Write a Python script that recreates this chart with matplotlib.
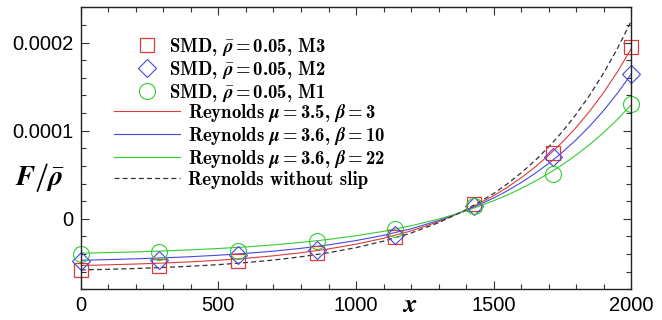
import matplotlib
matplotlib.use('Agg')
import matplotlib.pyplot as plt
from matplotlib.ticker import MultipleLocator, FuncFormatter

plt.rcParams['mathtext.fontset'] = 'custom'
plt.rcParams['mathtext.rm'] = 'cmb10'
plt.rcParams['mathtext.bf'] = 'cmb10'
plt.rcParams['mathtext.it'] = 'STIXGeneral:italic:bold'

# SMD data points
x_smd = [0, 286, 571, 857, 1143, 1429, 1714, 2000]
smd_m3 = [-5.85e-5, -5.4e-5, -4.75e-5, -3.9e-5, -2.07e-5, 1.66e-5, 7.45e-5, 1.95e-4]
smd_m2 = [-4.83e-5, -4.7e-5, -4.15e-5, -3.5e-5, -1.8e-5, 1.4e-5, 7.0e-5, 1.64e-4]
smd_m1 = [-3.96e-5, -3.77e-5, -3.7e-5, -2.5e-5, -1.17e-5, 1.47e-5, 5.06e-5, 1.30e-4]

# Reynolds curves (values in 1e-5)
x_rey = [0, 100, 200, 300, 400, 500, 600, 700, 800, 900, 1000, 1100, 1200, 1300, 1400,
         1500, 1550, 1600, 1650, 1700, 1750, 1800, 1850, 1900, 1950, 2000]
rey_b3 = [-5.30, -5.22, -5.13, -5.02, -4.88, -4.70, -4.48, -4.20, -3.85, -3.42, -2.88,
          -2.21, -1.37, -0.32, 0.99, 2.62, 3.59, 4.66, 5.87, 7.22, 8.72, 10.40, 12.27,
          14.37, 16.72, 19.34]
rey_b10 = [-4.70, -4.63, -4.54, -4.43, -4.30, -4.13, -3.92, -3.67, -3.35, -2.96, -2.47,
           -1.87, -1.13, -0.20, 0.94, 2.36, 3.19, 4.12, 5.15, 6.29, 7.57, 8.99, 10.57,
           12.32, 14.28, 16.46]
rey_b22 = [-3.90, -3.83, -3.75, -3.65, -3.52, -3.37, -3.19, -2.96, -2.68, -2.34, -1.92,
           -1.42, -0.79, -0.03, 0.90, 2.05, 2.71, 3.45, 4.26, 5.16, 6.15, 7.25, 8.47,
           9.81, 11.31, 12.95]
rey_noslip = [-5.80, -5.73, -5.64, -5.52, -5.38, -5.20, -4.97, -4.68, -4.31, -3.85, -3.27,
              -2.53, -1.61, -0.44, 1.03, 2.88, 3.98, 5.22, 6.61, 8.17, 9.92, 11.90, 14.10,
              16.59, 19.37, 22.49]

red = '#dd3b3b'
blue = '#4848e0'
green = '#33cc33'

fig = plt.figure(figsize=(6.62, 3.2), dpi=100)
ax = fig.add_axes([0.1219, 0.0959, 0.8319, 0.8813])

l1, = ax.plot(x_rey, [v * 1e-5 for v in rey_b3], color=red, lw=0.8)
l2, = ax.plot(x_rey, [v * 1e-5 for v in rey_b10], color=blue, lw=0.8)
l3, = ax.plot(x_rey, [v * 1e-5 for v in rey_b22], color=green, lw=0.8)
l4, = ax.plot(x_rey, [v * 1e-5 for v in rey_noslip], color='#333333', lw=0.9, dashes=(4, 2.5))

m3, = ax.plot(x_smd, smd_m3, 's', ms=9.5, mfc='none', mec=red, mew=0.9, clip_on=False)
m2, = ax.plot(x_smd, smd_m2, 'D', ms=9, mfc='none', mec=blue, mew=0.8, clip_on=False)
m1, = ax.plot(x_smd, smd_m1, 'o', ms=11.5, mfc='none', mec=green, mew=0.8, clip_on=False)

ax.set_xlim(0, 2000)
ax.set_ylim(-0.00008, 0.00024)
ax.xaxis.set_major_locator(MultipleLocator(500))
ax.xaxis.set_minor_locator(MultipleLocator(100))
ax.yaxis.set_major_locator(MultipleLocator(0.0001))
ax.yaxis.set_minor_locator(MultipleLocator(0.00002))
ax.yaxis.set_major_formatter(FuncFormatter(lambda v, p: '0' if abs(v) < 1e-12 else '%.4f' % v))
ax.tick_params(which='both', direction='in', top=True, right=True, width=0.8, color='#333333')
ax.tick_params(which='major', length=6, labelsize=14.5, pad=5)
ax.tick_params(which='minor', length=3.5)
for lab in ax.get_xticklabels() + ax.get_yticklabels():
    lab.set_family('Liberation Sans')
for s in ax.spines.values():
    s.set_linewidth(1.0)
    s.set_color('#222222')

ax.set_xlabel('$x$', fontsize=19)
ax.xaxis.set_label_coords(0.597, -0.056)
ax.xaxis.label.set_va('center')
ax.set_ylabel(r'$F/\bar{\rho}$', fontsize=20.5, rotation=0)
ax.yaxis.set_label_coords(-0.074, 0.395)
ax.yaxis.label.set_va('center')
ax.yaxis.label.set_ha('center')

lfont = {'family': ['cmb10', 'DejaVu Serif'], 'size': 13.5}
leg1 = ax.legend([m3, m2, m1],
                 [r'SMD, $\bar{\rho}=0.05$, M3', r'SMD, $\bar{\rho}=0.05$, M2', r'SMD, $\bar{\rho}=0.05$, M1'],
                 loc='upper left', bbox_to_anchor=(137.6 / 662, 1 - 36 / 320), bbox_transform=fig.transFigure,
                 frameon=False, prop=lfont, handlelength=1.0, handletextpad=0.67, borderpad=0,
                 borderaxespad=0, labelspacing=0.05, numpoints=1)
ax.add_artist(leg1)
ax.legend([l1, l2, l3, l4],
          [r'Reynolds $\mu=3.5$, $\beta=3$', r'Reynolds $\mu=3.6$, $\beta=10$',
           r'Reynolds $\mu=3.6$, $\beta=22$', 'Reynolds without slip'],
          loc='upper left', bbox_to_anchor=(114 / 662, 1 - 102 / 320), bbox_transform=fig.transFigure,
          frameon=False, prop=lfont, handlelength=3.5, handletextpad=0.47, borderpad=0,
          borderaxespad=0, labelspacing=0.05)

fig.savefig('out.png', dpi=100)
